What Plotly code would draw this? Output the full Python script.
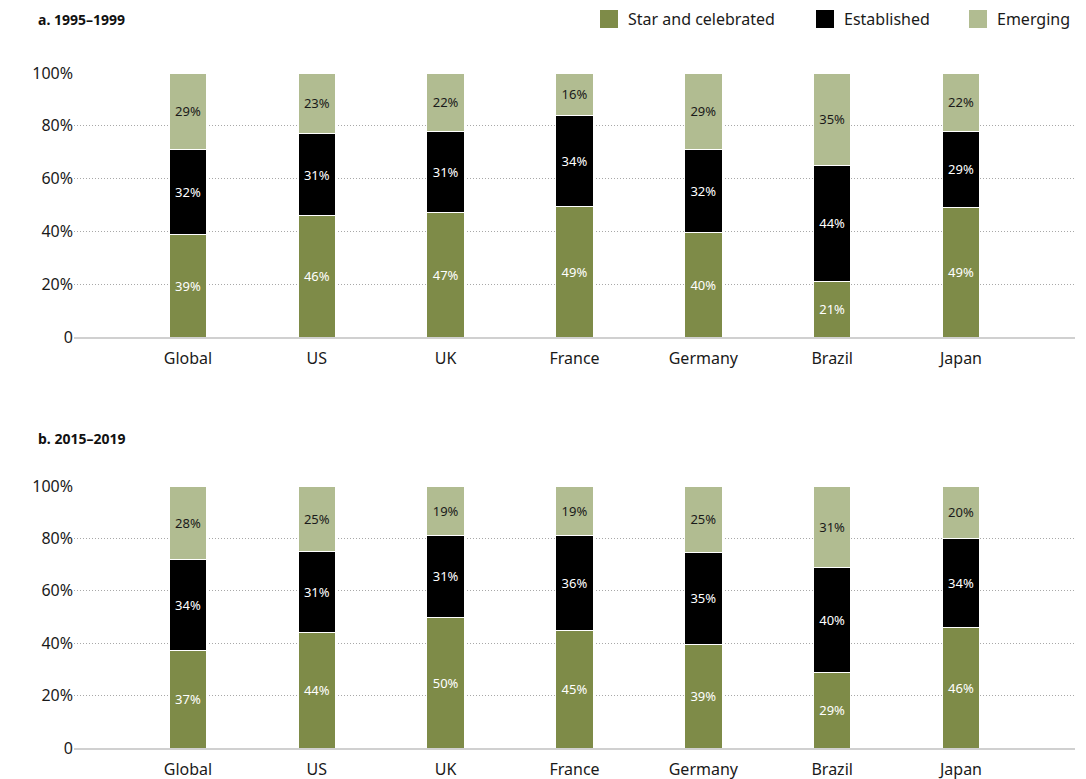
import plotly.graph_objects as go

categories = ["Global", "US", "UK", "France", "Germany", "Brazil", "Japan"]

# Panel a: 1995–1999 (shares in %, labels are rounded)
star_a = [39, 46, 47, 49.4, 39.6, 21, 49]
established_a = [32, 31, 31, 34.4, 31.6, 44, 29]
emerging_a = [29, 23, 22, 16.2, 28.8, 35, 22]

# Panel b: 2015–2019
star_b = [37.4, 44, 50, 45, 39.4, 29, 46]
established_b = [34.4, 31, 31, 36, 35.4, 40, 34]
emerging_b = [28.2, 25, 19, 19, 25.2, 31, 20]

series_names = ["Star and celebrated", "Established", "Emerging"]
colors = ["#7e8b48", "#000000", "#b1bc91"]
text_colors = ["#ffffff", "#ffffff", "#1a1a1a"]

ytick_vals = [0, 20, 40, 60, 80, 100]
ytick_text = ["0", "20%", "40%", "60%", "80%", "100%"]

panel_titles = ["a. 1995–1999", "b. 2015–2019"]

# page body has an 8px margin; lay out in viewport pixels and shift
OFF = 8
W, H = 1086 - OFF, 779 - OFF
FONT = "Noto Sans"


def px_x(p):
    return (p - OFF) / W


def px_y(p):
    return 1 - (p - OFF) / H


fig = go.Figure()

panels = [
    ([star_a, established_a, emerging_a], "x", "y"),
    ([star_b, established_b, emerging_b], "x2", "y2"),
]
for series, xa, ya in panels:
    for name, vals, col, tcol in zip(series_names, series, colors, text_colors):
        fig.add_trace(go.Bar(
            x=categories, y=vals, name=name, xaxis=xa, yaxis=ya,
            marker=dict(color=col, line=dict(color="white", width=1)),
            width=0.29,
            texttemplate="%{y:.0f}%", textposition="inside",
            insidetextanchor="middle", textangle=0,
            textfont=dict(color=tcol, size=13, family=FONT),
            showlegend=False, hoverinfo="skip",
        ))

xdom = [px_x(74), px_x(1075)]
xrange = [-0.885, 6.885]

common_x = dict(
    domain=xdom, range=xrange, type="category", showgrid=False,
    showline=True, linecolor="#d0d0d0", linewidth=2, ticks="",
    tickfont=dict(size=16, color="#1a1a1a", family=FONT), zeroline=False,
    fixedrange=True, automargin=False, ticklabelstandoff=6,
)
common_y = dict(
    range=[0, 100], tickvals=ytick_vals, ticktext=ytick_text,
    showgrid=True, gridcolor="#a8a8a8", griddash="1px,2px", gridwidth=1,
    zeroline=False, showline=False, ticks="", automargin=False,
    tickfont=dict(size=16, color="#1a1a1a", family=FONT), fixedrange=True,
)

# legend drawn as squares + labels
legend_sq_x = [600, 816, 969]
shapes = []
annotations = []
for name, col, x0 in zip(series_names, colors, legend_sq_x):
    shapes.append(dict(type="rect", xref="paper", yref="paper",
                       x0=px_x(x0), x1=px_x(x0 + 18), y0=px_y(28), y1=px_y(10),
                       fillcolor=col, line=dict(width=0)))
    annotations.append(dict(text=name, x=px_x(x0 + 26), y=px_y(19), xref="paper", yref="paper",
                            xanchor="left", yanchor="middle", showarrow=False,
                            font=dict(size=16, color="#1a1a1a", family=FONT)))

for title, ypx in zip(panel_titles, [20, 438]):
    annotations.append(dict(text=f"<b>{title}</b>", x=px_x(36), y=px_y(ypx), xref="paper", yref="paper",
                            xanchor="left", yanchor="middle", showarrow=False,
                            font=dict(size=14, color="#111", family=FONT)))

fig.update_layout(
    width=W, height=H, barmode="stack",
    margin=dict(l=0, r=0, t=0, b=0, pad=0, autoexpand=False),
    paper_bgcolor="white", plot_bgcolor="white",
    font=dict(family=FONT, color="#1a1a1a"),
    showlegend=False,
    xaxis=dict(common_x, anchor="y"),
    yaxis=dict(common_y, domain=[px_y(337), px_y(73)], anchor="x"),
    xaxis2=dict(common_x, anchor="y2"),
    yaxis2=dict(common_y, domain=[px_y(748), px_y(486)], anchor="x2"),
    shapes=shapes,
    annotations=annotations,
)

fig.write_html("out.html")
